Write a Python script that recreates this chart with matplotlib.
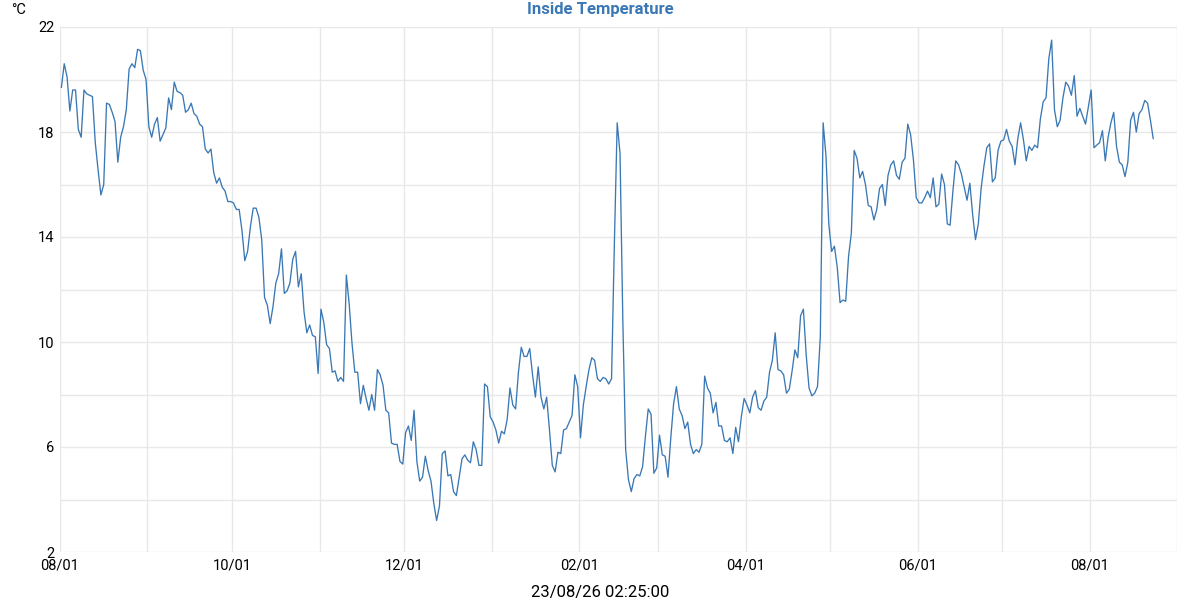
import numpy as np
import pandas as pd
import matplotlib
matplotlib.use('Agg')
import matplotlib.pyplot as plt
import matplotlib.dates as mdates

plt.rcParams['font.family'] = ['Roboto', 'DejaVu Sans']

# leituras diarias da temperatura interior (°C), a partir de 2022-08-01
temps = [
    19.7, 20.6, 20.1, 18.8, 19.6, 19.6, 18.1, 17.8, 19.6, 19.45,
    19.4, 19.35, 17.6, 16.55, 15.6, 16.0, 19.1, 19.05, 18.75, 18.4,
    16.85, 17.8, 18.2, 18.85, 20.4, 20.6, 20.45, 21.15, 21.1, 20.35,
    20.0, 18.2, 17.8, 18.3, 18.55, 17.65, 17.9, 18.15, 19.3, 18.85,
    19.9, 19.55, 19.5, 19.4, 18.75, 18.85, 19.1, 18.7, 18.6, 18.3,
    18.2, 17.35, 17.2, 17.35, 16.45, 16.05, 16.25, 15.9, 15.75, 15.35,
    15.35, 15.3, 15.05, 15.05, 14.25, 13.1, 13.45, 14.4, 15.1, 15.1,
    14.75, 13.9, 11.7, 11.4, 10.7, 11.35, 12.25, 12.6, 13.55, 11.85,
    11.95, 12.25, 13.15, 13.45, 12.1, 12.6, 11.15, 10.35, 10.65, 10.25,
    10.2, 8.8, 11.25, 10.75, 9.9, 9.75, 8.85, 8.9, 8.5, 8.65,
    8.5, 12.55, 11.45, 9.95, 8.85, 8.85, 7.65, 8.35, 7.85, 7.4,
    8.0, 7.4, 8.95, 8.75, 8.35, 7.4, 7.3, 6.15, 6.1, 6.1,
    5.45, 5.35, 6.55, 6.8, 6.25, 7.4, 5.45, 4.7, 4.85, 5.65,
    5.1, 4.7, 3.85, 3.2, 3.75, 5.75, 5.85, 4.9, 4.95, 4.3,
    4.15, 4.85, 5.55, 5.7, 5.5, 5.4, 6.2, 5.9, 5.3, 5.3,
    8.4, 8.3, 7.15, 6.95, 6.65, 6.15, 6.6, 6.5, 7.05, 8.25,
    7.6, 7.45, 8.85, 9.8, 9.45, 9.45, 9.75, 8.75, 7.9, 9.05,
    7.9, 7.45, 7.9, 6.65, 5.3, 5.05, 5.8, 5.75, 6.65, 6.7,
    6.95, 7.2, 8.75, 8.3, 6.35, 7.6, 8.3, 8.95, 9.4, 9.3,
    8.6, 8.5, 8.65, 8.6, 8.4, 8.6, 13.75, 18.35, 17.2, 10.8,
    5.9, 4.75, 4.3, 4.8, 4.95, 4.9, 5.25, 6.4, 7.45, 7.25,
    5.0, 5.2, 6.45, 5.7, 5.65, 4.85, 6.35, 7.65, 8.3, 7.45,
    7.2, 6.7, 6.95, 6.1, 5.75, 5.9, 5.8, 6.1, 8.7, 8.25,
    8.05, 7.3, 7.7, 6.8, 6.8, 6.25, 6.2, 6.35, 5.75, 6.75,
    6.2, 7.15, 7.85, 7.6, 7.3, 7.9, 8.15, 7.5, 7.4, 7.75,
    7.9, 8.85, 9.3, 10.35, 8.95, 8.9, 8.75, 8.05, 8.2, 8.9,
    9.7, 9.4, 11.0, 11.25, 9.5, 8.25, 7.95, 8.05, 8.3, 10.2,
    18.35, 17.1, 14.5, 13.45, 13.65, 12.85, 11.5, 11.6, 11.55, 13.25,
    14.15, 17.3, 17.0, 16.25, 16.5, 16.0, 15.2, 15.15, 14.65, 15.05,
    15.85, 16.0, 15.2, 16.35, 16.75, 16.9, 16.35, 16.2, 16.85, 17.0,
    18.3, 17.9, 16.95, 15.5, 15.3, 15.3, 15.5, 15.75, 15.5, 16.25,
    15.15, 15.25, 16.4, 16.0, 14.5, 14.45, 15.75, 16.9, 16.75, 16.4,
    15.9, 15.4, 16.05, 14.85, 13.9, 14.5, 15.85, 16.7, 17.4, 17.55,
    16.1, 16.25, 17.3, 17.65, 17.7, 18.1, 17.65, 17.45, 16.75, 17.75,
    18.35, 17.7, 16.9, 17.45, 17.3, 17.5, 17.4, 18.5, 19.15, 19.3,
    20.8, 21.5, 18.85, 18.2, 18.45, 19.3, 19.9, 19.75, 19.4, 20.15,
    18.6, 18.9, 18.6, 18.3, 18.95, 19.6, 17.4, 17.5, 17.6, 18.05,
    16.9, 17.8, 18.35, 18.75, 17.45, 16.85, 16.75, 16.3, 16.85, 18.45,
    18.75, 18.0, 18.7, 18.85, 19.2, 19.1, 18.45, 17.75,
]
datas = pd.date_range('2022-08-01 12:00', periods=len(temps), freq='D')

y_ticks = [2, 6, 10, 14, 18, 22]
titulo = 'Inside Temperature'
unidade = '°C'
carimbo = '23/08/26 02:25:00'

azul = '#3a78b5'
cinza = '#e8e8e8'

fig = plt.figure(figsize=(12, 6), dpi=100)
ax = fig.add_axes([0.05, 0.08, 0.931, 0.875])

ax.plot(datas, temps, color=azul, linewidth=0.95)

# eixo y: grelha a cada 2 graus, etiquetas a cada 4
ax.set_ylim(2, 22)
ax.set_yticks(y_ticks)
ax.set_yticks(np.arange(2, 23, 2), minor=True)

# eixo x: grelha mensal, etiquetas a cada 2 meses
ax.set_xlim(pd.Timestamp('2022-08-01'), pd.Timestamp('2023-09-01'))
ax.xaxis.set_major_locator(mdates.MonthLocator(bymonth=[2, 4, 6, 8, 10, 12]))
ax.xaxis.set_major_formatter(mdates.DateFormatter('%m/%d'))
ax.xaxis.set_minor_locator(mdates.MonthLocator())

ax.grid(True, which='both', color=cinza, linewidth=1.0)
ax.set_axisbelow(True)
ax.tick_params(which='both', length=0, labelsize=10.5, colors='black')
ax.tick_params(axis='y', pad=4)
ax.tick_params(axis='x', pad=5)
for s in ax.spines.values():
    s.set_visible(False)

fig.text(0.5, 0.984, titulo, ha='center', va='center', color=azul,
         fontsize=12, fontweight='bold')
fig.text(0.009, 0.984, unidade, ha='left', va='center', fontsize=10.5)
fig.text(0.5, 0.012, carimbo, ha='center', va='center', fontsize=12)

fig.savefig('out.png', dpi=100)
